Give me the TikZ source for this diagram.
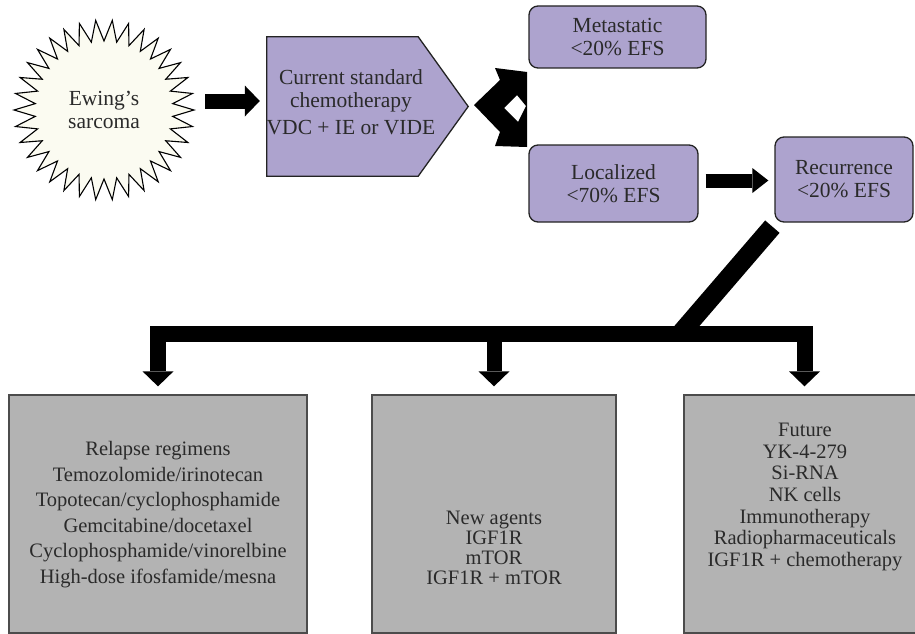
\documentclass[tikz,border=0pt]{standalone}
\usepackage{fontspec}
\setmainfont{Liberation Serif}
\usetikzlibrary{arrows.meta,calc}
\definecolor{lav}{HTML}{ADA3CE}
\definecolor{gbox}{HTML}{B3B3B3}
\definecolor{txt}{HTML}{2A2A2A}
\definecolor{cream}{HTML}{FBFBF1}
\definecolor{edge}{HTML}{232323}
\begin{document}
\begin{tikzpicture}[x=1pt,y=-1pt,
  topfont/.style={font=\fontsize{21.5}{23}\selectfont},
  purplebox/.style={draw=edge, line width=1.3pt, fill=lav, rounded corners=9pt, align=center, topfont, text=txt, inner sep=0pt},
  graybox/.style={draw=black!70, line width=1.3pt, fill=gbox, inner sep=0pt},
  bottomtext/.style={align=center, text=txt, inner sep=0pt},
  fatarrow/.style={line width=15pt, -{Triangle[width=31pt,length=15pt,line width=0pt]}},
  treeline/.style={line width=16pt, line join=miter}
]
\path[use as bounding box] (0,0) rectangle (915,634);

% starburst
\draw[fill=cream, draw=black, line width=1.1pt, line join=miter, shift={(104,110)}]
  plot[samples at={0,...,67}, variable=\i] ({\i*(360/68)}:{90-21*mod(\i,2)}) -- cycle;
\node[circle, minimum size=180pt, inner sep=0pt, align=center, topfont, text=txt] (ew) at (104,110) {Ewing’s\\sarcoma};

% pentagon
\node[minimum width=160pt, minimum height=139pt, inner sep=0pt] (chemo) at (347,106.5) {};
\draw[fill=lav, draw=edge, line width=1.3pt, line join=miter]
  (chemo.north west) -- ([xshift=-9pt]chemo.north east) -- ([xshift=41pt]chemo.east)
  -- ([xshift=-9pt]chemo.south east) -- (chemo.south west) -- cycle;
\node[align=center, topfont, text=txt, inner sep=0pt] (chemotext) at ([shift={(4pt,4pt)}]chemo.center) {Current standard\\chemotherapy\\[4pt]VDC + IE or VIDE};

% purple boxes
\node[purplebox, minimum width=177pt, minimum height=62pt] (met) at (617.5,37) {Metastatic\\<20\% EFS};
\node[purplebox, minimum width=169pt, minimum height=77pt] (loc) at (613.5,183.5) {Localized\\<70\% EFS};
\node[purplebox, minimum width=138pt, minimum height=85pt] (rec) at (844,179.5) {Recurrence\\<20\% EFS};

% arrow star -> chemo
\coordinate (a1) at ([shift={(11pt,9pt)}]ew.east);
\draw[fatarrow, shorten >=7pt] (a1) -- (a1 -| chemo.west);

% split double arrow
\fill[black, even odd rule]
  (474,105) -- (500,80) -- (495,68) -- (527,72) -- (527,147) -- (495,146) -- (500,132) -- cycle
  (504,108) -- (517,95) -- (526,106) -- (518,122) -- cycle;

% localized -> recurrence
\draw[line width=14pt, -{Triangle[width=25pt,length=16pt,line width=0pt]}, shorten <=7pt, shorten >=6pt]
  ([yshift=3pt]loc.east) -- ([yshift=3pt]loc.east -| rec.west);

% gray boxes
\node[graybox, minimum width=298pt, minimum height=238pt] (b1) at (158,514) {};
\node[graybox, minimum width=244pt, minimum height=238pt] (b2) at (494,514) {};
\node[graybox, minimum width=241pt, minimum height=238pt] (b3) at (804.5,514) {};

\node[bottomtext, font=\fontsize{20.5}{25.5}\selectfont] (t1) at (158,514.5)
  {Relapse regimens\\Temozolomide/irinotecan\\Topotecan/cyclophosphamide\\Gemcitabine/docetaxel\\Cyclophosphamide/vinorelbine\\High-dose ifosfamide/mesna};
\node[bottomtext, font=\fontsize{20.5}{20}\selectfont] (t2) at (494,548)
  {New agents\\IGF1R\\mTOR\\IGF1R + mTOR};
\node[bottomtext, font=\fontsize{20.5}{21.7}\selectfont] (t3) at (805,497)
  {Future\\YK-4-279\\Si-RNA\\NK cells\\Immunotherapy\\Radiopharmaceuticals\\IGF1R + chemotherapy};

% tree connectors
\coordinate (bary) at (0,333.5);
\coordinate (d0) at ([shift={(-2pt,-4pt)}]rec.south west);
\coordinate (d1) at (680,334);
\draw[line width=19pt] (d0) -- (d1);
\draw[treeline, {Triangle[width=31pt,length=15pt,line width=0pt]}-{Triangle[width=31pt,length=15pt,line width=0pt]}]
  ([yshift=8pt]b1.north) -- (b1.north |- bary) -- (b3.north |- bary) -- ([yshift=8pt]b3.north);
\draw[line width=15pt, -{Triangle[width=31pt,length=15pt,line width=0pt]}]
  ([yshift=-7pt]b2.north |- bary) -- ([yshift=8pt]b2.north);
\end{tikzpicture}
\end{document}
